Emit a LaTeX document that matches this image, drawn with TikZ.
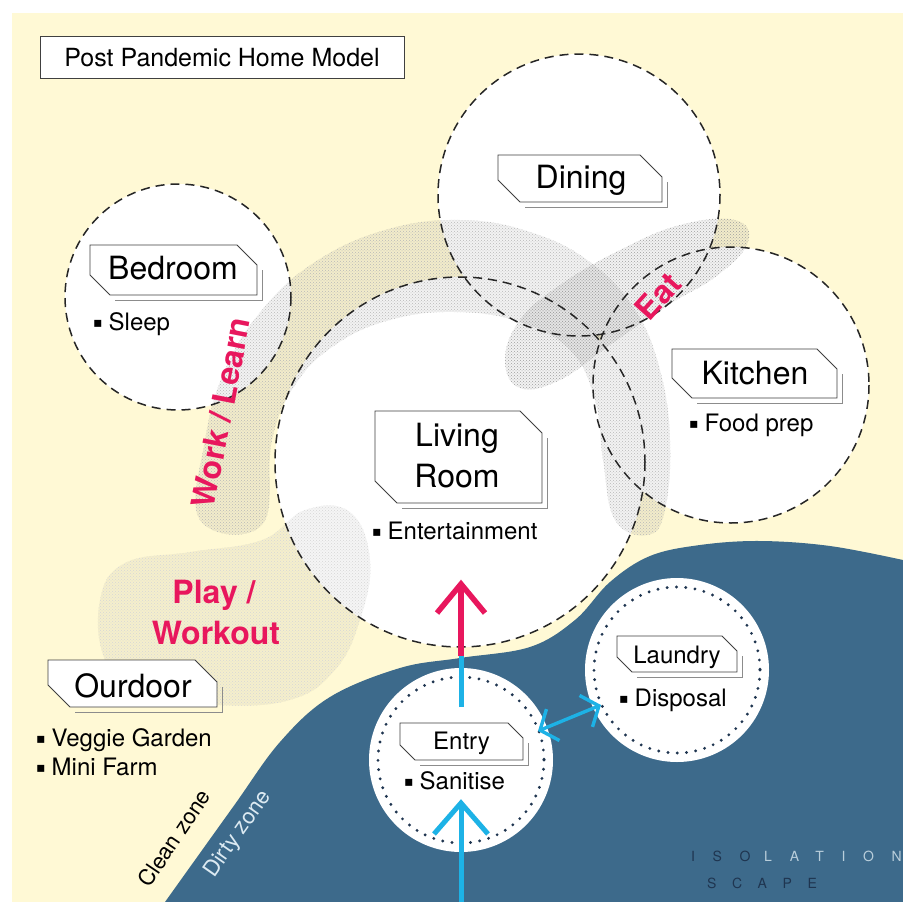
\documentclass[tikz,border=0pt]{standalone}
\usepackage{fontspec}
\setmainfont{TeX Gyre Heros}
\newfontfamily\symfont{DejaVu Sans}
\usetikzlibrary{patterns,arrows.meta}
\definecolor{cream}{HTML}{FFF9D5}
\definecolor{dirtyblue}{HTML}{3D6A8B}
\definecolor{pinkc}{HTML}{E8175D}
\definecolor{cyanc}{HTML}{1DB2E6}
\definecolor{navy}{HTML}{1F3550}
\definecolor{paleblue}{HTML}{B9CEDB}
\definecolor{dirtytext}{HTML}{DCEAF2}
\newcommand\bul{\raisebox{0.1em}{\symfont\fontsize{14}{14}\selectfont ▪}\hspace{0.25em}}
\newcommand\chbox[5]{%
 \begin{scope}[shift={(#1,#2)}]
  \draw[boxshadow] (-#3+#5+5,#4+5) -- (#3+5,#4+5) -- (#3+5,-#4+#5+5);
  \draw[boxframe] (-#3,-#4) -- (#3-#5,-#4) -- (#3,-#4+#5) -- (#3,#4) -- (-#3+#5,#4) -- (-#3,#4-#5) -- cycle;
 \end{scope}}
\tikzset{
 roomborder/.style={draw=black!85, line width=1.5pt, dash pattern=on 9pt off 6pt},
 dotring/.style={draw=navy, line width=3.2pt, line cap=round, dash pattern=on 0pt off 9.3pt},
 boxframe/.style={draw=black!75, line width=0.9pt, fill=white},
 boxshadow/.style={draw=black!45, line width=0.9pt},
 roomlabel/.style={font=\fontsize{32}{41}\selectfont, inner sep=0, anchor=base},
 smalllabel/.style={font=\fontsize{24}{28}\selectfont, inner sep=0, anchor=base},
 itemtext/.style={font=\fontsize{24}{29}\selectfont, inner sep=0, anchor=base west},
 pinktext/.style={font=\fontsize{32}{41}\selectfont\bfseries, text=pinkc, inner sep=0},
 zonetext/.style={font=\fontsize{22}{26}\selectfont, inner sep=0},
 band/.style={preaction={fill=black, fill opacity=0.05}, pattern=crosshatch dots, pattern color=black!28},
 eatband/.style={preaction={fill=black, fill opacity=0.05}, pattern=crosshatch dots, pattern color=black!38},
 softband/.style={preaction={fill=black, fill opacity=0.04}, pattern=crosshatch dots, pattern color=black!16},
 pinkarrow/.style={draw=pinkc, line width=5.5pt},
 cyanarrow/.style={draw=cyanc, line width=5pt},
 brand/.style={font=\fontsize{14}{16}\selectfont, inner sep=0, anchor=base west},
}
\begin{document}
\begin{tikzpicture}[x=1pt,y=-1pt]
\useasboundingbox (0,0) rectangle (903,902);
\fill[white] (0,0) rectangle (903,902);
\fill[cream] (12,13) rectangle (903,902);
% dirty zone
\fill[dirtyblue] plot[smooth, tension=0.6] coordinates {(165,902) (233,807) (280,742) (330,697) (400,668) (460,658) (530,647) (575,620) (610,582) (650,556) (700,545) (760,541) (830,546) (903,560)} -- (903,902) -- cycle;
% room fills
\fill[white] (178,297) circle[radius=113];
\fill[white] (579,195) circle[radius=141];
\fill[white] (731,385) circle[radius=138];
\fill[white] (460,462) circle[radius=185];
% textured bands
\path[softband] plot[smooth cycle, tension=0.7] coordinates {(100,600) (125,563) (190,552) (262,540) (305,510) (350,512) (370,560) (360,620) (335,670) (290,700) (215,705) (140,695) (105,660)};
\path[band] plot[smooth cycle, tension=0.7] coordinates {(200,520) (205,440) (225,370) (262,310) (315,262) (385,230) (460,220) (530,232) (590,262) (635,310) (660,370) (670,440) (665,510) (648,535) (615,520) (603,460) (595,400) (570,350) (520,322) (455,312) (390,320) (335,345) (295,385) (272,440) (262,525)};
\path[eatband] plot[smooth cycle, tension=0.7] coordinates {(505,360) (520,320) (560,285) (620,250) (680,225) (735,220) (748,242) (718,275) (665,307) (610,345) (560,380) (520,388)};
% room borders
\draw[roomborder] (178,297) circle[radius=113];
\draw[roomborder] (579,195) circle[radius=141];
\draw[roomborder] (731,385) circle[radius=138];
\draw[roomborder] (460,462) circle[radius=185];
% entry and laundry
\fill[white] (461,760) circle[radius=92];
\draw[dotring] (461,760) circle[radius=83];
\fill[white] (677,670) circle[radius=92];
\draw[dotring] (677,670) circle[radius=83];
% arrows
\coordinate (split) at (461,656);
\coordinate (pinktip) at (461,584);
\coordinate (entrytop) at (461,707);
\coordinate (inbottom) at (461,902);
\coordinate (intip) at (461,803);
\coordinate (entryside) at (538,731);
\coordinate (laundryside) at (601,705);
\draw[cyanarrow] (entrytop) -- (split);
\draw[pinkarrow] (split) -- (pinktip);
\draw[pinkarrow, line join=miter] (pinktip) ++(-24,29) -- (pinktip) -- ++(24,29);
\draw[cyanarrow] (inbottom) -- (intip);
\draw[cyanarrow, line join=miter] (intip) ++(-27,31) -- (intip) -- ++(27,31);
\draw[draw=cyanc, line width=3.4pt, {Straight Barb[length=14pt,width=34pt]}-{Straight Barb[length=14pt,width=34pt]}] (entryside) -- (laundryside);
% title
\draw[draw=black!75, line width=0.9pt, fill=white] (40,36) rectangle (404,78);
\node[font=\fontsize{25}{28}\selectfont, inner sep=0, anchor=base] (title) at (222,66) {Post Pandemic Home Model};
% labels
\chbox{580}{178.5}{82}{23.5}{22}
\node[roomlabel] (dining) at (581,188) {Dining};
\chbox{173.5}{270}{83.5}{25}{20}
\node[roomlabel] (bedroom) at (173,279) {Bedroom};
\node[itemtext] (sleep) at (93,330) {\bul Sleep};
\chbox{754.5}{373.5}{82.5}{24.5}{20}
\node[roomlabel] (kitchen) at (755,384) {Kitchen};
\node[itemtext] (foodprep) at (689,431) {\bul Food prep};
\chbox{458.5}{457}{83.5}{46}{22}
\node[roomlabel] (living) at (457,446) {Living};
\node[roomlabel] (room) at (457,487) {Room};
\node[itemtext] (entertainment) at (372,539) {\bul Entertainment};
\chbox{132.5}{683.5}{84.5}{23.5}{22}
\node[roomlabel] (ourdoor) at (133,697) {Ourdoor};
\node[itemtext] (veggie) at (36,746) {\bul Veggie Garden};
\node[itemtext] (minifarm) at (36,775) {\bul Mini Farm};
\chbox{461.5}{741.5}{61.5}{18.5}{15}
\node[smalllabel] (entry) at (461.5,749) {Entry};
\node[itemtext] (sanitise) at (404,789) {\bul Sanitise};
\chbox{677}{654}{60}{18}{15}
\node[smalllabel] (laundry) at (677,663) {Laundry};
\node[itemtext] (disposal) at (619,706) {\bul Disposal};
% activity texts
\node[pinktext, rotate=79] (worklearn) at (221,413) {Work / Learn};
\node[pinktext, rotate=48] (eat) at (658,296) {Eat};
\node[pinktext, anchor=base] (play) at (214,603) {Play /};
\node[pinktext, anchor=base] (workout) at (216,644) {Workout};
% zones
\node[zonetext, rotate=56] (clean) at (174,838) {Clean zone};
\node[zonetext, rotate=55, text=dirtytext] (dirty) at (238,834) {Dirty zone};
% brand
\node[brand] (iso) at (691,861) {\addfontfeatures{LetterSpace=126}\textcolor{navy}{ISO}\kern13.6pt\textcolor{paleblue}{LATION}};
\node[brand, text=navy] (scape) at (707,888) {\addfontfeatures{LetterSpace=112}SCAPE};
\end{tikzpicture}
\end{document}
